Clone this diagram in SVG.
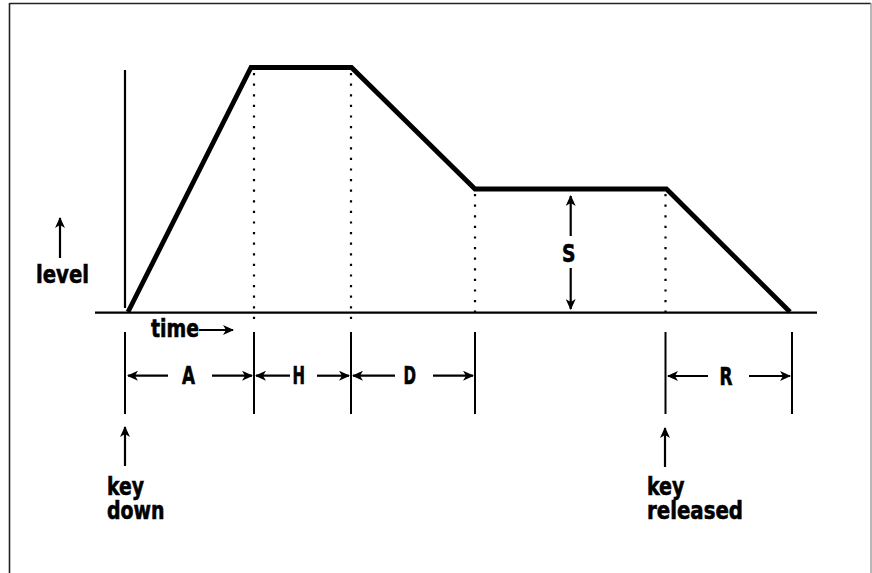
<svg xmlns="http://www.w3.org/2000/svg" width="872" height="573" viewBox="0 0 872 573">
<style>
.t{font-family:"DejaVu Sans Condensed","Liberation Sans Narrow","Liberation Sans",sans-serif;font-weight:bold;font-size:25px;fill:#000;stroke:#000;stroke-width:0.6}
.ax{stroke:#000;stroke-width:2.2;fill:none}
.env{stroke:#000;stroke-width:4.8;fill:none;stroke-linejoin:miter}
.dot{stroke:#000;stroke-width:2.2;stroke-dasharray:2.2 8.4;fill:none}
.tick{stroke:#000;stroke-width:2;fill:none}
.arr{stroke:#000;stroke-width:2.2;fill:none;marker-end:url(#ah)}
</style>
<defs>
<marker id="ah" markerWidth="12" markerHeight="10" refX="10" refY="5" orient="auto" markerUnits="userSpaceOnUse">
<path d="M0,0 L11,5 L0,10 L3,5 Z" fill="#000"/>
</marker>
</defs>
<rect width="872" height="573" fill="#fff"/>
<g id="frame">
<line x1="9.5" y1="3.5" x2="871" y2="3.5" stroke="#222" stroke-width="1.6"/>
<line x1="9.5" y1="3" x2="9.5" y2="573" stroke="#222" stroke-width="1.6"/>
<line x1="871" y1="3" x2="871" y2="573" stroke="#999" stroke-width="1.4"/>
</g>
<g id="axes">
<line class="ax" x1="125" y1="70" x2="125" y2="308"/>
<line class="ax" x1="95" y1="312.7" x2="817" y2="312.7"/>
</g>
<g id="envelope">
<polyline class="env" points="128,312 251,67.5 351.5,67.5 475,189 666.5,189 790,312"/>
</g>
<g id="guides">
<line class="dot" x1="254" y1="73" x2="254" y2="320"/>
<line class="dot" x1="351" y1="73" x2="351" y2="320"/>
<line class="dot" x1="475" y1="194" x2="475" y2="320"/>
<line class="dot" x1="665.5" y1="194" x2="665.5" y2="320"/>
</g>
<g id="ticks">
<line class="tick" x1="125" y1="332" x2="125" y2="414"/>
<line class="tick" x1="254" y1="332" x2="254" y2="414"/>
<line class="tick" x1="351" y1="332" x2="351" y2="414"/>
<line class="tick" x1="475" y1="332" x2="475" y2="414"/>
<line class="tick" x1="665.5" y1="332" x2="665.5" y2="414"/>
<line class="tick" x1="792" y1="332" x2="792" y2="414"/>
</g>
<g id="connectors">
<line class="arr" x1="168" y1="375.7" x2="128" y2="375.7"/>
<line class="arr" x1="212" y1="375.7" x2="252" y2="375.7"/>
<line class="arr" x1="290" y1="375.7" x2="256" y2="375.7"/>
<line class="arr" x1="317" y1="375.7" x2="349" y2="375.7"/>
<line class="arr" x1="395" y1="375.7" x2="353" y2="375.7"/>
<line class="arr" x1="433" y1="375.7" x2="473" y2="375.7"/>
<line class="arr" x1="708" y1="376" x2="668" y2="376"/>
<line class="arr" x1="749" y1="376" x2="790" y2="376"/>
<line class="arr" x1="570.7" y1="236" x2="570.7" y2="196"/>
<line class="arr" x1="570.7" y1="268" x2="570.7" y2="309"/>
<line class="arr" x1="60" y1="258" x2="60" y2="218"/>
<line class="arr" x1="199" y1="330" x2="233" y2="330"/>
<line class="arr" x1="125" y1="466" x2="125" y2="427"/>
<line class="arr" x1="665" y1="467" x2="665" y2="428"/>
</g>
<g id="labels">
<text class="t" x="36" y="283" textLength="53" lengthAdjust="spacingAndGlyphs">level</text>
<text class="t" x="151" y="337" textLength="48" lengthAdjust="spacingAndGlyphs">time</text>
<text class="t" x="182" y="384" textLength="13" lengthAdjust="spacingAndGlyphs">A</text>
<text class="t" x="292.5" y="383.5" textLength="12.5" lengthAdjust="spacingAndGlyphs">H</text>
<text class="t" x="403.5" y="383.5" textLength="12.5" lengthAdjust="spacingAndGlyphs">D</text>
<text class="t" x="719.5" y="385" textLength="13" lengthAdjust="spacingAndGlyphs">R</text>
<text class="t" x="562" y="261.5" textLength="13.5" lengthAdjust="spacingAndGlyphs">S</text>
<text class="t"><tspan x="107" y="495" textLength="37" lengthAdjust="spacingAndGlyphs">key</tspan><tspan x="107" y="519.3" textLength="57.5" lengthAdjust="spacingAndGlyphs">down</tspan></text>
<text class="t"><tspan x="647" y="494.5" textLength="37.5" lengthAdjust="spacingAndGlyphs">key</tspan><tspan x="647" y="519" textLength="96" lengthAdjust="spacingAndGlyphs">released</tspan></text>
</g>
</svg>
